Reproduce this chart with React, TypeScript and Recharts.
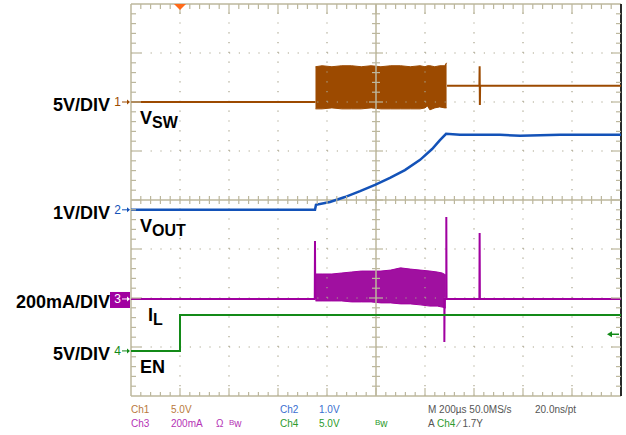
import {
  ComposedChart,
  Line,
  Area,
  Scatter,
  XAxis,
  YAxis,
  ReferenceLine,
  ReferenceDot,
} from "recharts";

// horizontal: 200 µs/div, trigger one division right of the left edge
const TIME_DIVS = [-200, 0, 200, 400, 600, 800, 1000, 1200, 1400, 1600, 1800];
// vertical: 8 divisions, centre = 0
const SCREEN_DIVS = [-4, -3, -2, -1, 0, 1, 2, 3, 4];

// channel setup: units per division, ground marker position (div)
const CH1 = { scale: 5, offset: 2.0 }; // V
const CH2 = { scale: 1, offset: -0.2 }; // V
const CH3 = { scale: 200, offset: -2.02 }; // mA
const CH4 = { scale: 5, offset: -3.08 }; // V
const TRIGGER_LEVEL = 1.7; // V on Ch4

// Ch1 V_SW (V)
const swTime = [-200, 553, 800, 1088, 1090, 1222, 1223, 1224, 1225, 1800];
const swVolts = [0, 0, null, null, 1.65, 1.65, 3.65, -0.3, 1.65, 1.65];
const swBurstTime = [553, 580, 620, 660, 700, 740, 780, 820, 860, 900, 940, 980, 1000, 1010, 1020, 1040, 1060, 1080, 1088];
const swBurstHigh = [3.6, 3.7, 3.6, 3.7, 3.7, 3.6, 3.7, 3.6, 3.7, 3.7, 3.6, 3.7, 3.6, 3.7, 3.7, 3.6, 3.7, 3.7, 4.0];
const swBurstLow = [-0.7, -0.7, -0.6, -0.7, -0.7, -0.7, -0.6, -0.7, -0.7, -0.7, -0.7, -0.7, -0.6, -0.4, -0.8, -0.6, -0.5, -0.6, -0.6];

// Ch2 V_OUT (V)
const voutTime = [-200, 551, 555, 612, 673, 735, 796, 857, 918, 980, 1029, 1061, 1086, 1143, 1306, 1388, 1551, 1800];
const voutVolts = [0, 0, 0.1, 0.16, 0.26, 0.38, 0.51, 0.65, 0.81, 1.02, 1.24, 1.42, 1.55, 1.53, 1.53, 1.51, 1.53, 1.53];

// Ch3 I_L (mA)
const ilTime = [-200, 550, 551, 552, 800, 1079, 1079, 1080, 1087, 1087, 1088, 1222, 1223, 1224, 1800];
const ilAmps = [0, 0, 237, 0, null, 0, -176, 0, 0, 335, 0, 0, 269, 0, 0];
const ilBurstTime = [553, 580, 620, 660, 700, 740, 780, 820, 860, 900, 940, 980, 1020, 1050, 1070, 1085];
const ilBurstHigh = [102, 102, 102, 106, 110, 114, 114, 114, 118, 127, 122, 118, 114, 110, 106, 98];
const ilBurstLow = [-8, -8, -8, -8, -12, -12, -12, -16, -16, -20, -20, -24, -29, -29, -33, -37];

// Ch4 EN (V)
const enTime = [-200, 0, 0, 1800];
const enVolts = [0, 0, 3.67, 3.67];

const C1 = "#9c4a00";
const C2 = "#1352b8";
const C3 = "#a000a0";
const C4 = "#138a18";
const GRID = "#bcb79d";
const FONT = "'Liberation Sans', Arial, sans-serif";
const SMALL = "'Liberation Sans Narrow', 'Liberation Sans', Arial, sans-serif";

type Ch = { scale: number; offset: number };
const toDiv = (v: number, ch: Ch) => v / ch.scale + ch.offset;
const lineRows = (ts: number[], vs: (number | null)[], ch: Ch) =>
  ts.map((t, i) => ({ t, d: vs[i] === null ? null : toDiv(vs[i] as number, ch) }));
const bandRows = (ts: number[], lo: number[], hi: number[], ch: Ch) =>
  ts.map((t, i) => ({ t, band: [toDiv(lo[i], ch), toDiv(hi[i], ch)] }));

const swRows = lineRows(swTime, swVolts, CH1);
const swBand = bandRows(swBurstTime, swBurstLow, swBurstHigh, CH1);
const voutRows = lineRows(voutTime, voutVolts, CH2);
const ilRows = lineRows(ilTime, ilAmps, CH3);
const ilBand = bandRows(ilBurstTime, ilBurstLow, ilBurstHigh, CH3);
const enRows = lineRows(enTime, enVolts, CH4);

// graticule tick marks (every 1/5 division)
const tickMarks: any[] = [];
for (let k = 1; k < 50; k++) {
  const t = -200 + k * 40;
  const major = k % 5 === 0;
  tickMarks.push({ t, d: 4, x0: 0, y0: 0, x1: 0, y1: major ? 10 : 5 });
  tickMarks.push({ t, d: -4, x0: 0, y0: 0, x1: 0, y1: major ? -8 : -4 });
  tickMarks.push({ t, d: 0, x0: 0, y0: -4, x1: 0, y1: 4 });
}
for (let k = 1; k < 40; k++) {
  const d = -4 + k * 0.2;
  const major = k % 5 === 0;
  tickMarks.push({ t: -200, d, x0: 0, y0: 0, x1: major ? 10 : 5, y1: 0 });
  tickMarks.push({ t: 1800, d, x0: 0, y0: 0, x1: major ? -10 : -5, y1: 0 });
  tickMarks.push({ t: 800, d, x0: major ? -7 : -4, y0: 0, x1: major ? 7 : 4, y1: 0 });
}

const TickMark = (p: any) => {
  const { cx, cy, payload } = p;
  if (cx == null || cy == null) return null;
  return (
    <line
      x1={cx + payload.x0}
      y1={cy + payload.y0}
      x2={cx + payload.x1}
      y2={cy + payload.y1}
      stroke={GRID}
      strokeWidth={1.2}
    />
  );
};

const channels = [
  { ch: CH1, num: "1", color: C1, scaleText: "5V/DIV", name: "V", sub: "SW", nameX: 140, boxed: false },
  { ch: CH2, num: "2", color: C2, scaleText: "1V/DIV", name: "V", sub: "OUT", nameX: 140, boxed: false },
  { ch: CH3, num: "3", color: C3, scaleText: "200mA/DIV", name: "I", sub: "L", nameX: 148, boxed: true },
  { ch: CH4, num: "4", color: C4, scaleText: "5V/DIV", name: "EN", sub: "", nameX: 140, boxed: false },
];

const ChannelMarker = (p: any) => {
  const { cx, cy, info } = p;
  return (
    <g>
      {info.boxed && <rect x={cx - 21} y={cy - 7} width={20} height={16} fill={info.color} />}
      <text x={cx - 10} y={cy + 4} fontSize={12} fontFamily={FONT} fill={info.boxed ? "#fff" : info.color} textAnchor="end">
        {info.num}
      </text>
      <line x1={cx - 9} y1={cy} x2={cx - 2} y2={cy} stroke={info.boxed ? "#fff" : info.color} strokeWidth={1} />
      <path d={`M${cx - 1} ${cy} L${cx - 4} ${cy - 2.5} L${cx - 4} ${cy + 2.5} Z`} fill={info.boxed ? "#fff" : info.color} />
      <text x={cx - 21} y={cy + 9} fontSize={18} fontWeight="bold" fontFamily={FONT} fill="#000" textAnchor="end">
        {info.scaleText}
      </text>
      <text x={info.nameX} y={cy + 22} fontSize={18} fontWeight="bold" fontFamily={FONT} fill="#000">
        {info.name}
        {info.sub && (
          <tspan fontSize={16} dy={4}>
            {info.sub}
          </tspan>
        )}
      </text>
    </g>
  );
};

const TriggerPos = (p: any) => (
  <path d={`M${p.cx - 6} ${p.cy} L${p.cx + 6} ${p.cy} L${p.cx} ${p.cy + 6} Z`} fill="#ff6a1a" />
);

const TriggerLevel = (p: any) => (
  <g>
    <line x1={p.cx - 12} y1={p.cy} x2={p.cx - 2} y2={p.cy} stroke={C4} strokeWidth={1.5} />
    <path d={`M${p.cx - 14} ${p.cy} L${p.cx - 9} ${p.cy - 3} L${p.cx - 9} ${p.cy + 3} Z`} fill={C4} />
  </g>
);

const Bw = ({ x, y, color }: { x: number; y: number; color: string }) => (
  <text x={x} y={y} fontSize={10} fontFamily={SMALL} fill={color}>
    <tspan fontSize={8} dy={-2}>B</tspan>
    <tspan dy={2}>w</tspan>
  </text>
);

export default function App() {
  return (
    <div style={{ position: "absolute", left: 0, top: 0, width: 626, height: 435, background: "#fff" }}>
      <ComposedChart width={626} height={435} margin={{ top: 4, right: 5, bottom: 39, left: 131 }}>
        <XAxis type="number" dataKey="t" domain={[-200, 1800]} ticks={TIME_DIVS} hide allowDataOverflow />
        <YAxis type="number" dataKey="d" domain={[-4, 4]} ticks={SCREEN_DIVS} hide allowDataOverflow />

        {TIME_DIVS.slice(1, -1)
          .filter((t) => t !== 800)
          .map((t) => (
            <ReferenceLine key={`vx${t}`} x={t} stroke="#a9a48c" strokeWidth={1.2} strokeDasharray="1.2 8.6" />
          ))}
        {SCREEN_DIVS.slice(1, -1)
          .filter((d) => d !== 0)
          .map((d) => (
            <ReferenceLine key={`hy${d}`} y={d} stroke="#a9a48c" strokeWidth={1.2} strokeDasharray="1.2 8.6" />
          ))}
        <ReferenceLine x={800} stroke={GRID} strokeWidth={1.5} />
        <ReferenceLine y={0} stroke={GRID} strokeWidth={1.5} />
        <ReferenceLine y={4} stroke={GRID} strokeWidth={1.5} />
        <ReferenceLine y={-4} stroke={GRID} strokeWidth={1.5} />
        <ReferenceLine x={-200} stroke={GRID} strokeWidth={1.5} />
        <ReferenceLine x={1800} stroke="#2a2a2a" strokeWidth={2} />
        <Scatter data={tickMarks} dataKey="d" shape={<TickMark />} isAnimationActive={false} />

        <Area data={swBand} dataKey="band" type="linear" stroke={C1} strokeWidth={1} fill={C1} fillOpacity={1} isAnimationActive={false} />
        <Line data={swRows} dataKey="d" type="linear" stroke={C1} strokeWidth={2} dot={false} isAnimationActive={false} />
        <Line data={voutRows} dataKey="d" type="linear" stroke={C2} strokeWidth={2.5} dot={false} isAnimationActive={false} />
        <Area data={ilBand} dataKey="band" type="linear" stroke={C3} strokeWidth={1} fill="#a010a0" fillOpacity={1} isAnimationActive={false} />
        <Line data={ilRows} dataKey="d" type="linear" stroke={C3} strokeWidth={2} dot={false} isAnimationActive={false} />
        <Line data={enRows} dataKey="d" type="linear" stroke={C4} strokeWidth={2} dot={false} isAnimationActive={false} />

        {channels.map((c) => (
          <ReferenceDot
            key={c.num}
            x={-200}
            y={c.ch.offset}
            ifOverflow="visible"
            shape={(p: any) => <ChannelMarker {...p} info={c} />}
          />
        ))}
        <ReferenceDot x={0} y={4} ifOverflow="visible" shape={(p: any) => <TriggerPos {...p} />} />
        <ReferenceDot x={1800} y={toDiv(TRIGGER_LEVEL, CH4)} ifOverflow="visible" shape={(p: any) => <TriggerLevel {...p} />} />
      </ComposedChart>

      <svg width={626} height={435} style={{ position: "absolute", left: 0, top: 0, pointerEvents: "none" }}>
        <g fontSize={10} fontFamily={SMALL}>
          <text x={131} y={413} fill="#b9793c">Ch1</text>
          <text x={171} y={413} fill="#b9793c">5.0V</text>
          <text x={280} y={413} fill="#3a6fd0">Ch2</text>
          <text x={319} y={413} fill="#3a6fd0">1.0V</text>
          <text x={428} y={413} fill="#555">M 200µs 50.0MS/s</text>
          <text x={535} y={413} fill="#555">20.0ns/pt</text>
          <text x={131} y={427} fill="#b533b5">Ch3</text>
          <text x={171} y={427} fill="#b533b5">200mA</text>
          <text x={216} y={427} fill="#b533b5">Ω</text>
          <text x={280} y={427} fill="#2c9a2c">Ch4</text>
          <text x={319} y={427} fill="#2c9a2c">5.0V</text>
          <text x={428} y={427} fill="#555">A</text>
          <text x={437} y={427} fill="#2c9a2c">Ch4</text>
          <text x={458} y={427} fill="#555">∕ 1.7Y</text>
        </g>
        <Bw x={229} y={427} color="#b533b5" />
        <Bw x={375} y={427} color="#2c9a2c" />
      </svg>
    </div>
  );
}
